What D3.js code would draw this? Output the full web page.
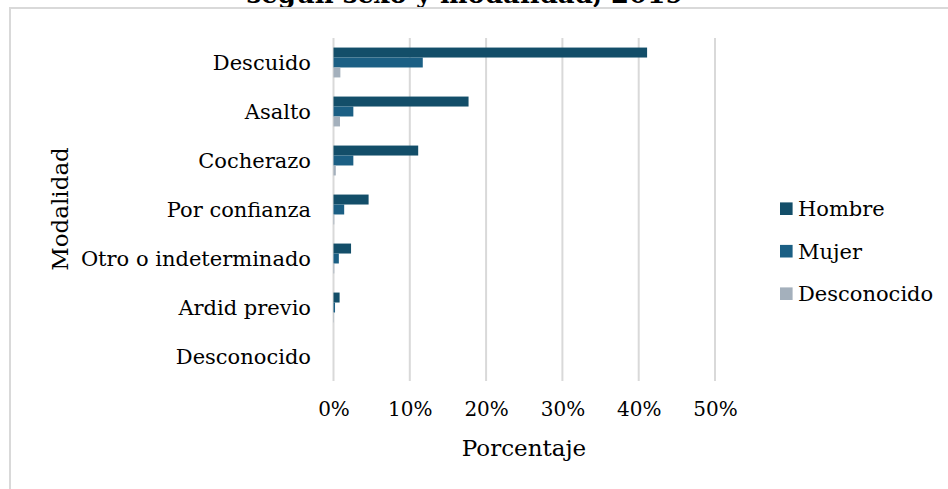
<!DOCTYPE html>
<html><head><meta charset="utf-8">
<script src="https://cdn.jsdelivr.net/npm/d3@7"></script>
<style>html,body{margin:0;padding:0;background:#fff;}svg{display:block;}</style>
</head><body>
<svg id="chart" width="948" height="489"></svg>
<script>
const title = "según sexo y modalidad, 2019";
const categories = ["Descuido","Asalto","Cocherazo","Por confianza","Otro o indeterminado","Ardid previo","Desconocido"];
const seriesNames = ["Hombre","Mujer","Desconocido"];
const hombre = [41.1, 17.7, 11.1, 4.6, 2.3, 0.8, 0.0];
const mujer = [11.7, 2.6, 2.6, 1.4, 0.7, 0.2, 0.0];
const desconocido = [0.9, 0.85, 0.3, 0.1, 0.1, 0.05, 0.0];
const tickValues = [0, 10, 20, 30, 40, 50];
const colors = ["#134e69", "#1b5f84", "#a4b0bc"];
const xTitle = "Porcentaje";
const yTitle = "Modalidad";

(function () {
const series = [hombre, mujer, desconocido];
const svg = d3.select("#chart");
const font = "'DejaVu Serif', Georgia, serif";

// title (clipped by chart area, as in the reference)
svg.append("text").attr("x", 465).attr("y", 3).attr("text-anchor", "middle")
  .attr("font-family", font).attr("font-weight", "bold").attr("font-size", 26)
  .attr("fill", "#000").text(title);

svg.append("rect").attr("x", 10).attr("y", 8).attr("width", 960).attr("height", 500)
  .attr("fill", "#fff").attr("stroke", "#d9d9d9").attr("stroke-width", 2);

const pLeft = 333.5, pRight = 715, pTop = 38, pBottom = 381;
const x = d3.scaleLinear().domain([0, 50]).range([pLeft, pRight]);
const y0 = d3.scaleBand().domain(categories).range([pTop, pBottom]).paddingInner(0.39).paddingOuter(0.195);
const y1 = d3.scaleBand().domain(seriesNames).range([0, y0.bandwidth()]);

// gridlines
svg.append("g").selectAll("line").data(tickValues).join("line")
  .attr("x1", d => x(d)).attr("x2", d => x(d)).attr("y1", pTop).attr("y2", pBottom)
  .attr("stroke", "#d9d9d9").attr("stroke-width", 2);

// bars
const groups = svg.append("g").selectAll("g").data(categories).join("g")
  .attr("transform", c => `translate(0,${y0(c)})`);
groups.selectAll("rect").data((c, i) => seriesNames.map((s, j) => ({s, j, v: series[j][i]})))
  .join("rect")
  .attr("x", x(0)).attr("y", d => y1(d.s)).attr("height", y1.bandwidth())
  .attr("width", d => x(d.v) - x(0)).attr("fill", d => colors[d.j]);

// y axis labels
const yAxis = d3.axisLeft(y0).tickSize(0).tickPadding(0);
const gy = svg.append("g").attr("transform", `translate(311,0)`).call(yAxis);
gy.select(".domain").remove();
gy.selectAll("text").attr("font-family", font).attr("font-size", 21).attr("fill", "#000").attr("dy", "0.35em");

// x axis labels
const xAxis = d3.axisBottom(x).tickValues(tickValues).tickFormat(d => d + "%").tickSize(0).tickPadding(0);
const gx = svg.append("g").attr("transform", `translate(0,400)`).call(xAxis);
gx.select(".domain").remove();
gx.selectAll("text").attr("font-family", font).attr("font-size", 20).attr("fill", "#000").attr("dy", "0.8em");

// axis titles
svg.append("text").attr("x", 524).attr("y", 456).attr("text-anchor", "middle")
  .attr("font-family", font).attr("font-size", 23).attr("fill", "#000").text(xTitle);
svg.append("text").attr("transform", "translate(68,209) rotate(-90)").attr("text-anchor", "middle")
  .attr("font-family", font).attr("font-size", 23).attr("fill", "#000").text(yTitle);

// legend
const leg = svg.append("g").selectAll("g").data(seriesNames).join("g")
  .attr("transform", (d, i) => `translate(780,${208.7 + i * 42.5})`);
leg.append("rect").attr("x", 0).attr("y", -6.3).attr("width", 12.6).attr("height", 12.6)
  .attr("fill", (d, i) => colors[i]);
leg.append("text").attr("x", 18).attr("y", 0).attr("dy", "0.35em")
  .attr("font-family", font).attr("font-size", 21).attr("fill", "#000").text(d => d);
})();
</script>
</body></html>
